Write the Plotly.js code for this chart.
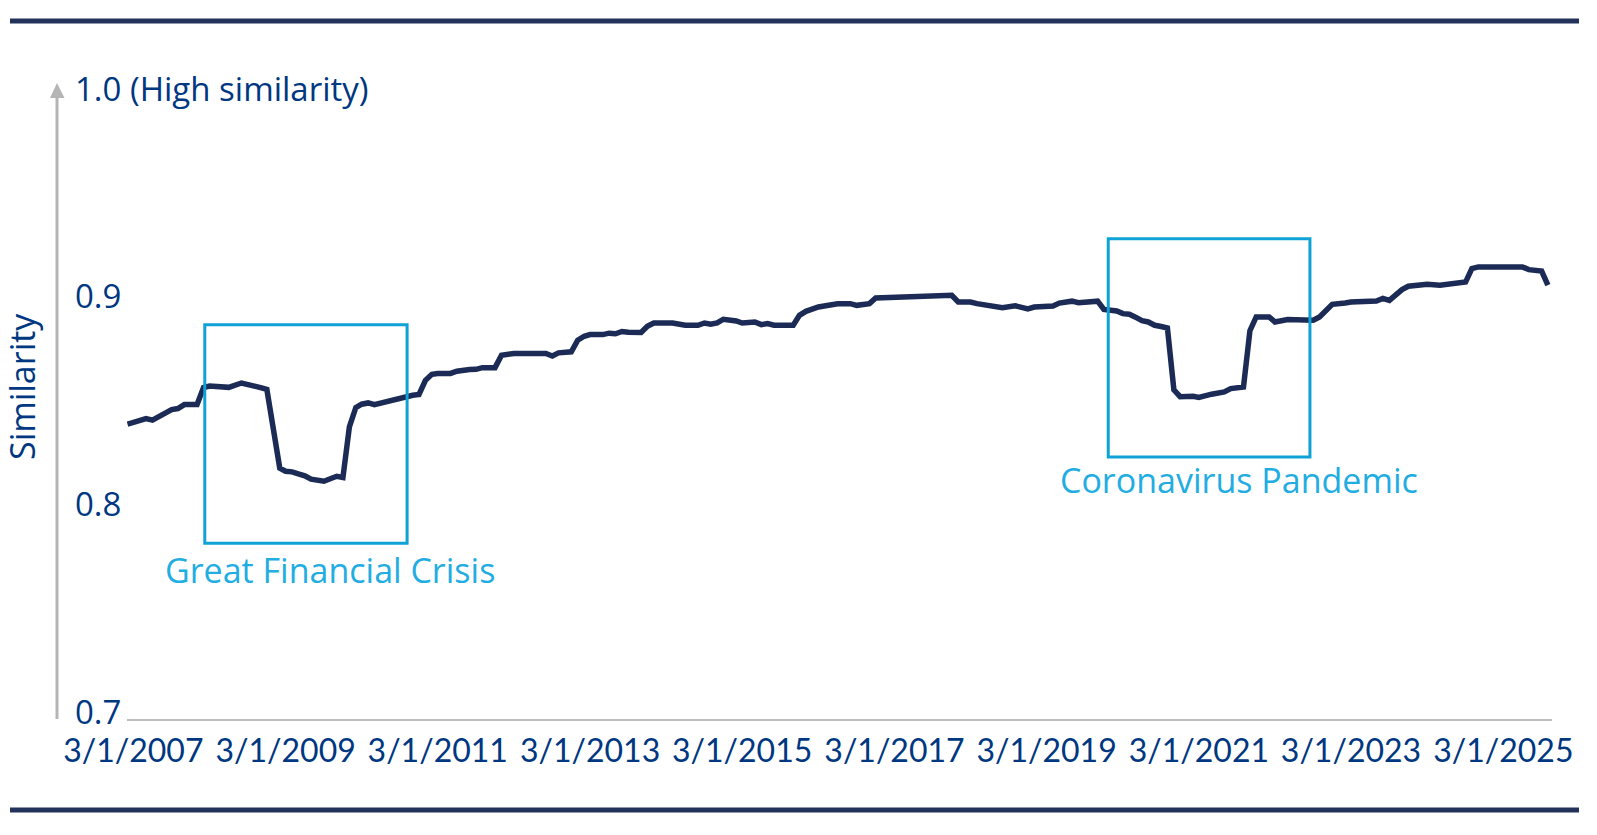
<!DOCTYPE html>
<html>
<head>
<meta charset="utf-8">
<script src="https://cdn.plot.ly/plotly-3.0.1.min.js"></script>
<style>
  html, body { margin: 0; padding: 0; background: #ffffff; }
  #chart { width: 1597px; height: 835px; }
</style>
</head>
<body>
<div id="chart"></div>
<script>
// ---- Data ----
const months = [
  '2007-02','2007-03','2007-05','2007-06','2007-07','2007-08','2007-09','2007-10','2007-11',
  '2008-01','2008-02','2008-03','2008-05','2008-06','2008-08','2008-09','2008-11','2008-12',
  '2009-01','2009-02','2009-03','2009-04','2009-05','2009-06','2009-07','2009-09','2009-11','2009-12',
  '2010-01','2010-02','2010-03','2010-04','2010-05','2010-06','2010-07','2010-09','2010-11','2010-12',
  '2011-01','2011-02','2011-03','2011-05','2011-06','2011-08','2011-09','2011-10','2011-12',
  '2012-01','2012-02','2012-03','2012-08','2012-09','2012-10','2012-12',
  '2013-01','2013-02','2013-03','2013-05','2013-06','2013-07','2013-08','2013-09','2013-11','2013-12',
  '2014-01','2014-04','2014-06','2014-08','2014-09','2014-10','2014-11','2014-12',
  '2015-02','2015-03','2015-05','2015-06','2015-07','2015-08','2015-11','2015-12',
  '2016-01','2016-03','2016-06','2016-08','2016-09','2016-11','2016-12',
  '2017-02','2017-04','2017-07','2017-09','2017-12',
  '2018-01','2018-03','2018-04','2018-06','2018-07','2018-08','2018-10','2018-12',
  '2019-01','2019-04','2019-05','2019-07','2019-08','2019-10','2019-11','2019-12',
  '2020-01','2020-02','2020-03','2020-04','2020-05','2020-06','2020-07','2020-08','2020-09','2020-10','2020-11','2020-12',
  '2021-02','2021-03','2021-05','2021-07','2021-08','2021-10','2021-11','2021-12',
  '2022-02','2022-03','2022-05','2022-09','2022-10','2022-12',
  '2023-02','2023-03','2023-07','2023-08','2023-09','2023-11','2023-12',
  '2024-03','2024-05','2024-06','2024-08','2024-09','2024-10','2024-11',
  '2025-06','2025-07','2025-09','2025-10'
];
const similarity = [
  0.842,0.843,0.8447,0.8439,0.8455,0.8478,0.8490,0.8495,0.8514,
  0.8514,0.8596,0.8603,0.8597,0.8597,0.8618,0.8612,0.8596,0.8587,
  0.8375,0.8208,0.8193,0.8190,0.8180,0.8171,0.8155,0.8145,0.8169,0.8163,
  0.8407,0.8500,0.8516,0.8522,0.8514,0.8522,0.8532,0.8543,0.8559,0.8563,
  0.8631,0.8660,0.8664,0.8664,0.8675,0.8683,0.8684,0.8692,0.8692,
  0.8752,0.8757,0.8760,0.8760,0.8748,0.8763,0.8768,
  0.8824,0.8843,0.8851,0.8851,0.8858,0.8855,0.8866,0.8862,0.8861,0.8891,
  0.8907,0.8907,0.8896,0.8896,0.8907,0.8901,0.8907,0.8925,
  0.8917,0.8907,0.8912,0.8899,0.8904,0.8896,0.8896,0.8944,
  0.8963,0.8984,0.9000,0.9000,0.8992,0.9000,0.9027,
  0.9030,0.9032,0.9032,0.9040,0.9040,
  0.9008,0.9008,0.9000,0.8990,0.8990,0.8981,0.8990,0.8975,
  0.8984,0.8989,0.9003,0.9012,0.9005,0.9012,0.9012,0.8972,
  0.8970,0.8965,0.8952,0.8949,0.8935,0.8918,0.8912,0.8896,0.8890,0.8883,0.8585,0.8552,
  0.8554,0.8548,0.8564,0.8575,0.8591,0.8599,0.8870,0.8936,
  0.8936,0.8912,0.8924,0.8920,0.8936,0.8997,
  0.9003,0.9008,0.9013,0.9025,0.9016,0.9068,0.9084,
  0.9093,0.9089,0.9093,0.9097,0.9104,0.9169,0.9177,
  0.9177,0.9164,0.9157,0.9089
];
const xTickVals = ['2007-03-01','2009-03-01','2011-03-01','2013-03-01','2015-03-01',
                   '2017-03-01','2019-03-01','2021-03-01','2023-03-01','2025-03-01'];
const xTickText = ['3/1/2007','3/1/2009','3/1/2011','3/1/2013','3/1/2015',
                   '3/1/2017','3/1/2019','3/1/2021','3/1/2023','3/1/2025'];
const yTickVals = [0.7, 0.8, 0.9, 1.0];
const yTickText = ['0.7', '0.8', '0.9', '1.0 (High similarity)'];
const eventNames = ['Great Financial Crisis', 'Coronavirus Pandemic'];
const eventStart = ['2008-02-07', '2019-12-22'];
const eventEnd   = ['2010-10-05', '2022-08-16'];
const eventLow   = [0.7846, 0.8262];
const eventHigh  = [0.8899, 0.9313];

// ---- Layout geometry (pixels) ----
const W = 1597, H = 835;
const L = 127, R = 45, T = 96, B = 116;
const PW = W - L - R, PH = H - T - B;
const px = v => (v - L) / PW;            // pixel x -> paper x
const py = v => (H - B - v) / PH;        // pixel y -> paper y

const NAVY = '#1b2b55';
const BLUE = '#003781';
const LIGHT = '#0ea2d6';
const LIGHT_TXT = '#22ade2';
const GREY = '#b5b5b5';

const shapes = [];
// top & bottom rules
shapes.push({type:'line', xref:'paper', yref:'paper', x0:px(10), x1:px(1579), y0:py(21), y1:py(21),
  line:{color:'#22325a', width:5}});
shapes.push({type:'line', xref:'paper', yref:'paper', x0:px(10), x1:px(1579), y0:py(810), y1:py(810),
  line:{color:'#22325a', width:5}});
// grey vertical arrow
shapes.push({type:'line', xref:'paper', yref:'paper', x0:px(57), x1:px(57), y0:py(719), y1:py(96),
  line:{color:GREY, width:3}});
shapes.push({type:'path', xref:'paper', yref:'paper',
  path:`M ${px(50)} ${py(98)} L ${px(57)} ${py(83)} L ${px(64.5)} ${py(98)} Z`,
  fillcolor:GREY, line:{width:0}});
// event boxes
for (let i = 0; i < eventNames.length; i++) {
  shapes.push({type:'rect', xref:'x', yref:'y', x0:eventStart[i], x1:eventEnd[i],
    y0:eventLow[i], y1:eventHigh[i], line:{color:LIGHT, width:3}, fillcolor:'rgba(0,0,0,0)'});
}

const annotations = [];
// y tick labels, left-aligned like the original
for (let i = 0; i < yTickVals.length; i++) {
  annotations.push({xref:'paper', yref:'y', x:px(73), y:yTickVals[i], xanchor:'left', yanchor:'middle',
    yshift:8, text:yTickText[i], showarrow:false,
    font:{family:'Open Sans, sans-serif', size:33, color:BLUE}});
}
// axis title
annotations.push({xref:'paper', yref:'paper', x:px(22), y:py(387), xanchor:'center', yanchor:'middle',
  text:'Similarity', textangle:-90, showarrow:false,
  font:{family:'Open Sans, sans-serif', size:34, color:BLUE}});
// event labels
annotations.push({xref:'paper', yref:'paper', x:px(163), y:py(570), xanchor:'left', yanchor:'middle',
  text:eventNames[0], showarrow:false, font:{family:'Open Sans, sans-serif', size:34, color:LIGHT_TXT}});
annotations.push({xref:'paper', yref:'paper', x:px(1058), y:py(480), xanchor:'left', yanchor:'middle',
  text:eventNames[1], showarrow:false, font:{family:'Open Sans, sans-serif', size:34, color:LIGHT_TXT}});

const trace = {
  x: months, y: similarity, type:'scatter', mode:'lines',
  line:{color:NAVY, width:5.5}, hoverinfo:'x+y'
};

const layout = {
  width: W, height: H,
  margin:{l:L, r:R, t:T, b:B, pad:0},
  paper_bgcolor:'#ffffff', plot_bgcolor:'#ffffff',
  showlegend:false,
  xaxis:{
    type:'date', range:['2007-01-29 17:00', '2025-10-20 17:00'],
    tickmode:'array', tickvals:xTickVals, ticktext:xTickText,
    showgrid:false, zeroline:false, showline:true, linecolor:'#bdbdbd', linewidth:1.5,
    ticks:'', ticklabelstandoff:3,
    tickfont:{family:'Lato, sans-serif', size:32, color:BLUE}
  },
  yaxis:{
    range:[0.7, 1.0], showticklabels:false, showgrid:false, zeroline:false, showline:false, ticks:''
  },
  shapes: shapes,
  annotations: annotations
};

Plotly.newPlot('chart', [trace], layout, {displayModeBar:false, staticPlot:true});
</script>
</body>
</html>
